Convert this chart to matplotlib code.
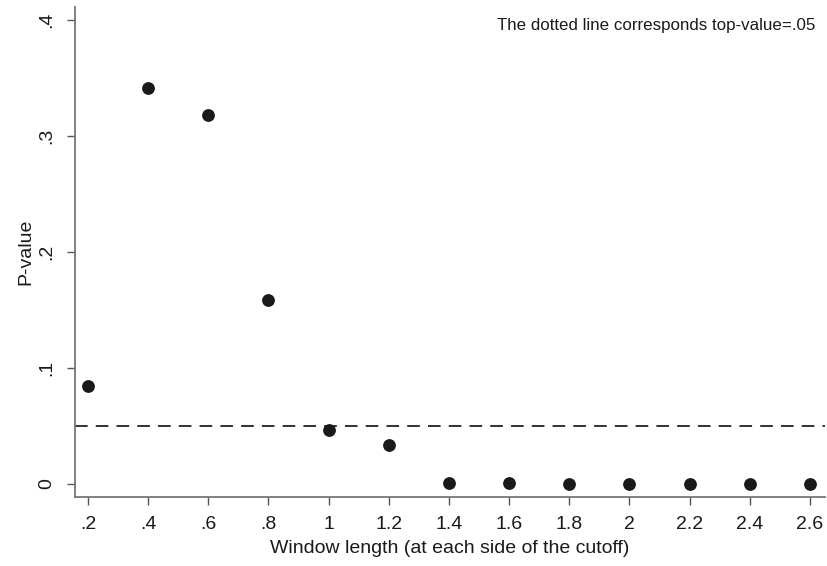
import matplotlib
matplotlib.use("Agg")
import matplotlib.pyplot as plt

plt.rcParams["font.family"] = ["Liberation Sans", "DejaVu Sans"]

window = [0.2, 0.4, 0.6, 0.8, 1.0, 1.2, 1.4, 1.6, 1.8, 2.0, 2.2, 2.4, 2.6]
p_values = [0.0845, 0.341, 0.318, 0.1586, 0.0466, 0.0336, 0.001, 0.001, 0.0, 0.0, 0.0, 0.0, 0.0]
x_labels = [".2", ".4", ".6", ".8", "1", "1.2", "1.4", "1.6", "1.8", "2", "2.2", "2.4", "2.6"]
y_ticks = [0, 0.1, 0.2, 0.3, 0.4]
y_labels = ["0", ".1", ".2", ".3", ".4"]
threshold = 0.05

fig = plt.figure(figsize=(8.28, 5.66), dpi=100)
ax = fig.add_axes([0.0906, 0.1219, 0.9058, 0.8657])

ax.scatter(window, p_values, s=85, color="#1a1a1a", zorder=3, linewidths=0)
ax.axhline(threshold, color="#222222", linewidth=1.3, linestyle=(0, (7, 4.5)))

ax.set_xlim(0.157, 2.65)
ax.set_ylim(-0.0112, 0.4112)
ax.set_xticks(window)
ax.set_xticklabels(x_labels)
ax.set_yticks(y_ticks)
ax.set_yticklabels(y_labels, rotation=90, va="center")

for side in ("top", "right"):
    ax.spines[side].set_visible(False)
for side in ("left", "bottom"):
    ax.spines[side].set_color("#777777")
    ax.spines[side].set_linewidth(1.3)

ax.tick_params(axis="both", length=6, width=1.0, color="#555555",
               labelsize=14, labelcolor="#1a1a1a")
ax.tick_params(axis="x", pad=8)
ax.tick_params(axis="y", pad=8)

ax.set_xlabel("Window length (at each side of the cutoff)", fontsize=14,
              color="#1a1a1a", labelpad=5)
ax.set_ylabel("P-value", fontsize=14, color="#1a1a1a", labelpad=3)

ax.text(0.987, 0.962, "The dotted line corresponds top-value=.05",
        transform=ax.transAxes, ha="right", va="center", fontsize=12.2,
        color="#1a1a1a")

fig.savefig("out.png", dpi=100)
